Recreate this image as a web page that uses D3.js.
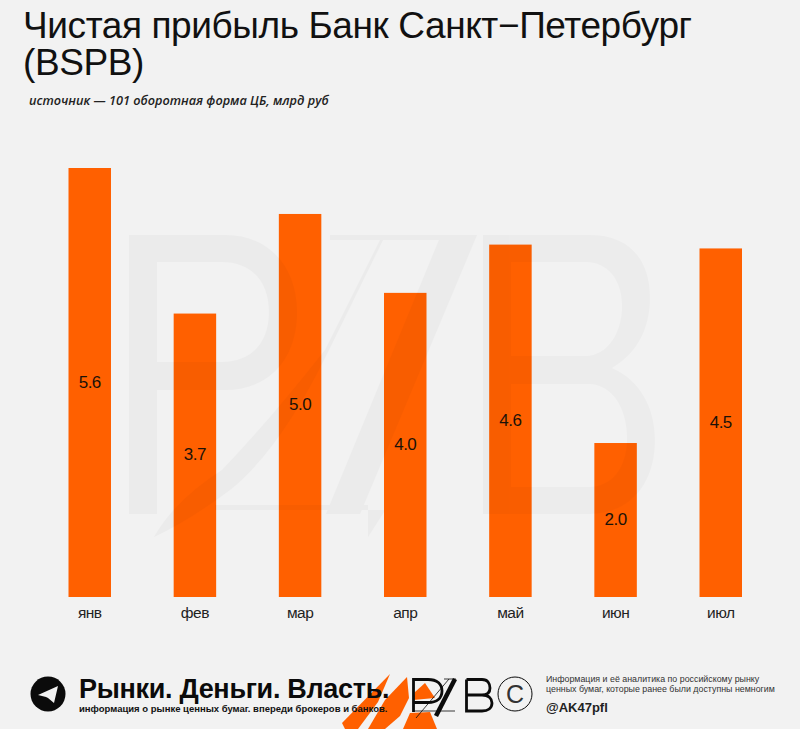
<!DOCTYPE html>
<html lang="ru">
<head>
<meta charset="UTF-8">
<title>Чистая прибыль Банк Санкт-Петербург</title>
<script src="https://cdn.jsdelivr.net/npm/d3@7"></script>
<style>
  html, body { margin: 0; padding: 0; background: #f2f2f2; }
  svg { display: block; }
  text { font-family: "Liberation Sans", Arial, sans-serif; }
</style>
</head>
<body>
<svg id="chart" width="800" height="729"></svg>
<script>
const months = ["янв", "фев", "мар", "апр", "май", "июн", "июл"];
const barHeights = [5.6, 3.7, 5.0, 3.97, 4.6, 2.01, 4.55]; // as drawn in the picture
const barLabels = ["5.6", "3.7", "5.0", "4.0", "4.6", "2.0", "4.5"];
const titleLines = ["Чистая прибыль Банк Санкт−Петербург", "(BSPB)"];
const subtitle = "источник — 101 оборотная форма ЦБ, млрд руб";
const footerNote = ["Информация и её аналитика по российскому рынку", "ценных бумаг, которые ранее были доступны немногим"];

const svg = d3.select("#chart");
const ORANGE = "#ff6000";

const x = d3.scaleBand().domain(months).range([68.5, 742]).paddingInner(0.596).paddingOuter(0);
const y = d3.scaleLinear().domain([0, 5.6]).range([597, 168]);

svg.append("g").selectAll("text").data(titleLines).join("text")
  .attr("x", 23).attr("y", (d, i) => 38 + i * 36.5)
  .attr("font-size", 37).attr("letter-spacing", -0.4).attr("fill", "#111").text(d => d);

svg.append("text").attr("x", 29).attr("y", 105)
  .style("font-family", "'Open Sans'").style("font-style", "italic").style("font-weight", 600)
  .attr("font-size", 12.7).attr("fill", "#222").text(subtitle);

svg.append("g").selectAll("rect").data(barHeights).join("rect")
  .attr("x", (d, i) => x(months[i])).attr("width", x.bandwidth())
  .attr("y", d => y(d)).attr("height", d => y(0) - y(d))
  .attr("fill", ORANGE);

// big logo, faint, lies over the bars too
const wm = svg.append("g").attr("fill", "#000").attr("opacity", 0.024);
wm.append("path").attr("fill-rule", "evenodd")
  .attr("d", "M129 235H225C270 235 297 268 297 312C297 358 270 390 225 390H157V514H129ZM157 262V362H222C252 362 269 342 269 312C269 282 252 262 222 262Z");
wm.append("path").attr("d", "M441 235H477L360 514H326Z");
wm.append("path").attr("d", "M330 235H441V240H330ZM215 505H368V510H215ZM368 510H384V512L368 537Z");
wm.append("path").attr("d", "M383 240L328 352Q280 450 230 490Q190 520 154 537Q175 500 222 470Q270 420 325 350L380 240Z");
wm.append("path").attr("fill-rule", "evenodd")
  .attr("d", "M483 235H590C628 235 650 258 650 298C650 330 636 354 612 368C640 380 655 408 655 440C655 486 628 514 590 514H483ZM511 262V356H585C608 356 622 332 622 306C622 280 608 262 585 262ZM511 384V487H588C612 487 627 468 627 438C627 408 612 384 588 384Z");

svg.append("g").selectAll("text").data(barHeights).join("text")
  .attr("x", (d, i) => x(months[i]) + x.bandwidth() / 2)
  .attr("y", d => (y(d) + y(0)) / 2 + 5)
  .attr("text-anchor", "middle").attr("font-size", 17).attr("letter-spacing", -0.5)
  .attr("fill", "#1a1208").text((d, i) => barLabels[i]);

const axis = svg.append("g").attr("transform", "translate(0,597)")
  .call(d3.axisBottom(x).tickSize(0).tickPadding(10));
axis.select(".domain").remove();
axis.selectAll("text").attr("font-size", 15.5).attr("letter-spacing", -0.5).attr("fill", "#222")
  .style("font-family", "'Liberation Sans'");

// footer: orange shards behind the channel name
const shards = ["M342 723L390 674L378 702L358 729H345Z",
  "M407 677L409 698L400 716L385 729H368L385 700Z",
  "M415 692L425 683L435 698L413 700Z",
  "M410 713L430 712L437 729H403Z"];
svg.append("g").selectAll("path").data(shards).join("path").attr("d", d => d).attr("fill", ORANGE);

// telegram badge
svg.append("circle").attr("cx", 48).attr("cy", 694).attr("r", 17.5).attr("fill", "#0b0b0b");
svg.append("path").attr("d", "M38 695L58 686L54 703L48 698L46 697Z").attr("fill", "#f2f2f2");

svg.append("text").attr("x", 79).attr("y", 697.5).attr("font-size", 27).attr("font-weight", 700)
  .attr("letter-spacing", -0.3).attr("fill", "#0b0b0b").text("Рынки. Деньги. Власть.");
svg.append("text").attr("x", 79).attr("y", 712).attr("font-size", 9.5).attr("font-weight", 700)
  .attr("fill", "#111").text("информация о рынке ценных бумаг. впереди брокеров и банков.");

// small logo
const logo = svg.append("g").attr("fill", "none").attr("stroke", "#0b0b0b");
logo.append("path").attr("stroke-width", 2.8).attr("d", "M413.5 712V679.5H428C437 679.5 442 684 442 691C442 698 437 702.5 428 702.5H413.5");
logo.append("path").attr("stroke-width", 4.5).attr("d", "M455 679L436 716");
logo.append("path").attr("stroke-width", 0.8).attr("d", "M444 679H456M449 679L416 718M413 711H455");
logo.append("path").attr("stroke-width", 2.8).attr("d", "M466.5 679.5H482C488 679.5 490 684 490 688C490 692 488 695 482 695H466.5M482 695C489 695 492 699 492 703C492 708 488 711 482 711H466.5V679.5");
logo.append("circle").attr("cx", 515).attr("cy", 694).attr("r", 17).attr("stroke-width", 1);
svg.append("text").attr("x", 515).attr("y", 703).attr("text-anchor", "middle").attr("font-size", 25)
  .attr("fill", "#333").text("C");

svg.append("g").selectAll("text").data(footerNote).join("text")
  .attr("x", 546).attr("y", (d, i) => 682 + i * 10)
  .attr("font-size", 8.85).attr("fill", "#333").text(d => d);
svg.append("text").attr("x", 546).attr("y", 712).attr("font-size", 13).attr("font-weight", 700)
  .attr("fill", "#222").text("@AK47pfl");
</script>
</body>
</html>
